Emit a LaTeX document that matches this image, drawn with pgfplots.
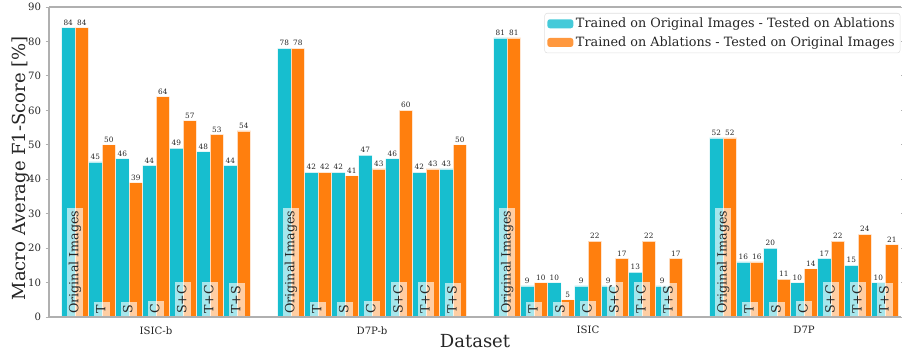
\documentclass[border=0pt]{standalone}
\usepackage{pgfplots}
\pgfplotsset{compat=1.18}
\usepackage{fontspec}
\setmainfont{DejaVu Serif}

\definecolor{cyanbar}{HTML}{17BECF}
\definecolor{orangebar}{HTML}{FF7F0E}
\definecolor{spine}{HTML}{B0B0B0}
\definecolor{txt}{HTML}{262626}

% group positions: dataset d, ablation g -> x = 8d + g
\pgfplotstableread{
x  orig abl
0  84 84
1  45 50
2  46 39
3  44 64
4  49 57
5  48 53
6  44 54
8  78 78
9  42 42
10 42 41
11 47 43
12 46 60
13 42 43
14 43 50
16 81 81
17 9  10
18 10 5
19 9  22
20 9  17
21 13 22
22 9  17
24 52 52
25 16 16
26 20 11
27 10 14
28 17 22
29 15 24
30 10 21
}\scores

\begin{document}
\begin{tikzpicture}
\begin{axis}[
  name=ax,
  scale only axis,
  width=639pt, height=232.5pt,
  xmin=-0.963, xmax=30.59,
  ymin=0, ymax=90,
  ybar, bar width=0.5,
  clip=false,
  axis line style={draw=none},
  xtick={3,11,19,27},
  xticklabels={ISIC-b,D7P-b,ISIC,D7P},
  x tick style={draw=none},
  ytick={0,10,...,90},
  y tick style={spine, line width=0.6pt},
  tick align=outside,
  major tick length=2.5pt,
  /pgf/number format/assume math mode=true,
  ticklabel style={font=\fontsize{7.6}{9}\selectfont, text=txt},
  xticklabel style={yshift=-1pt},
  xlabel={Dataset},
  ylabel={Macro Average F1-Score [\%]},
  xlabel style={font=\fontsize{13.5}{16}\selectfont, text=txt,
    at={(rel axis cs:0.5,0)}, anchor=center, yshift=-18pt},
  ylabel style={font=\fontsize{13.5}{16}\selectfont, text=txt,
    at={(rel axis cs:0,0.48)}, anchor=center, yshift=21.5pt},
  every axis plot/.append style={draw=white, draw opacity=0.7, line width=0.5pt},
  nodes near coords={\pgfmathprintnumber[fixed,precision=0]{\pgfplotspointmeta}},
  every node near coord/.append style={font=\fontsize{5.5}{6}\selectfont,
    text=txt, inner sep=1pt, yshift=0.5pt},
  legend style={at={(rel axis cs:1,1)}, anchor=north east, xshift=-0.5pt, yshift=-4.5pt,
    draw=black!12, rounded corners=2pt, fill=white, fill opacity=0.8, text opacity=1,
    font=\fontsize{9.6}{11}\selectfont, text=txt,
    inner xsep=2pt, inner ysep=1.5pt, row sep=1.2pt},
  legend cell align=left,
  legend image code/.code={\fill[#1, draw=none] (0pt,-3.4pt) rectangle (19.5pt,3.4pt);},
]
\addplot[fill=cyanbar, bar shift=-0.25] table[x=x, y=orig] {\scores};
\addlegendentry{Trained on Original Images - Tested on Ablations}
\addplot[fill=orangebar, bar shift=0.25] table[x=x, y=abl] {\scores};
\addlegendentry{Trained on Ablations - Tested on Original Images}

% ablation names inside each group
\pgfplotsinvokeforeach{0,8,16,24}{
  \begin{scope}[every node/.style={rotate=90, anchor=west, fill=white, fill opacity=0.62,
      text opacity=1, text=txt, font=\fontsize{9.5}{11}\selectfont,
      text height=0.76em, text depth=0.24em, inner xsep=2.2pt, inner ysep=1.2pt}]
    \node at (axis cs:#1,0) {Original Images};
    \node at (axis cs:#1+1,0) {T};
    \node at (axis cs:#1+2,0) {S};
    \node at (axis cs:#1+3,0) {C};
    \node at (axis cs:#1+4,0) {S+C};
    \node at (axis cs:#1+5,0) {T+C};
    \node at (axis cs:#1+6,0) {T+S};
  \end{scope}
}

% spines: left, bottom and top
\draw[spine, line width=0.8pt] (rel axis cs:0,1) -- (rel axis cs:0,0) -- (rel axis cs:1,0);
\draw[spine, line width=0.8pt] (rel axis cs:0,1) -- (rel axis cs:1,1);
\end{axis}
\pgfresetboundingbox
\path[use as bounding box] ([xshift=-36.75pt,yshift=-27pt]ax.south west)
  rectangle ([xshift=0.75pt,yshift=5.25pt]ax.north east);
\end{tikzpicture}
\end{document}
